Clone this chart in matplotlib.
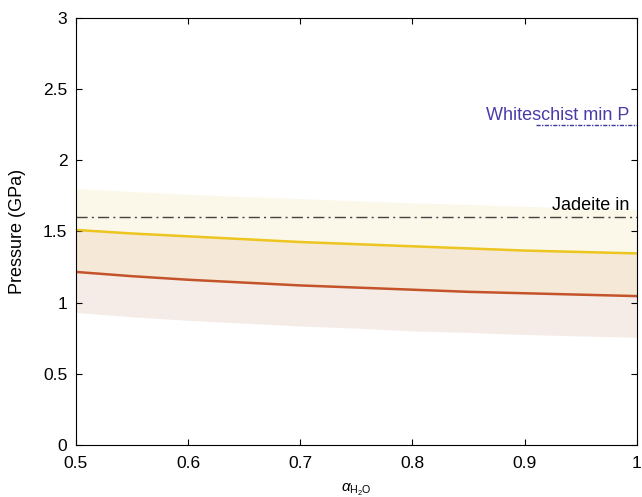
import numpy as np
import matplotlib.pyplot as plt

plt.rcParams['font.family'] = ['Liberation Sans', 'DejaVu Sans']
plt.rcParams['mathtext.fontset'] = 'custom'
plt.rcParams['mathtext.rm'] = 'Liberation Sans'
plt.rcParams['mathtext.it'] = 'Liberation Sans:italic'

# alpha_H2O values
alpha = [0.5, 0.55, 0.6, 0.65, 0.7, 0.75, 0.8, 0.85, 0.9, 0.95, 1.0]
# upper curve (yellow) and its envelope
p_yellow = [1.51, 1.485, 1.465, 1.445, 1.425, 1.41, 1.395, 1.38, 1.365, 1.355, 1.345]
p_yellow_hi = [1.80, 1.78, 1.76, 1.745, 1.73, 1.715, 1.70, 1.69, 1.675, 1.665, 1.655]
# lower curve (red) and its envelope
p_red = [1.215, 1.185, 1.16, 1.14, 1.12, 1.105, 1.09, 1.075, 1.065, 1.055, 1.045]
p_red_lo = [0.93, 0.90, 0.875, 0.855, 0.835, 0.82, 0.80, 0.79, 0.775, 0.765, 0.755]

jadeite_p = 1.6
whiteschist_p = 2.25
whiteschist_x = [0.91, 1.0]

fig = plt.figure(figsize=(6.42, 4.97), dpi=100)
ax = fig.add_axes([0.118, 0.105, 0.874, 0.859])

ax.fill_between(alpha, p_yellow, p_yellow_hi, color='#fbf7e9', lw=0)
ax.fill_between(alpha, p_red, p_yellow, color='#f5e8d7', lw=0)
ax.fill_between(alpha, p_red_lo, p_red, color='#f5ece7', lw=0)

ax.plot(alpha, p_yellow, color='#ecc51f', lw=1.8)
ax.plot(alpha, p_red, color='#c4532a', lw=1.8)

ax.axhline(jadeite_p, color='#444444', lw=1.0, ls=(0, (8, 3, 1.5, 3)))
ax.text(0.993, jadeite_p + 0.02, 'Jadeite in', ha='right', va='bottom', fontsize=13)

ax.plot(whiteschist_x, [whiteschist_p] * 2, color='#3b3ba0', lw=1.0, ls=(0, (3, 1, 1, 1)))
ax.text(0.993, whiteschist_p + 0.005, 'Whiteschist min P', ha='right', va='bottom',
        fontsize=13, color='#4a3ca8')

ax.set_xlim(0.5, 1)
ax.set_ylim(0, 3)
ax.set_xticks([0.5, 0.6, 0.7, 0.8, 0.9, 1])
ax.set_xticklabels(['0.5', '0.6', '0.7', '0.8', '0.9', '1'])
ax.set_yticks([0, 0.5, 1, 1.5, 2, 2.5, 3])
ax.set_yticklabels(['0', '0.5', '1', '1.5', '2', '2.5', '3'])
ax.tick_params(direction='in', length=4, labelsize=12.5, top=True, right=True)
ax.tick_params(axis='x', pad=8)
ax.tick_params(axis='y', pad=6)
ax.set_xlabel(r'$\alpha_{\mathrm{H_2O}}$', fontsize=11, labelpad=8)
ax.set_ylabel('Pressure (GPa)', fontsize=13, labelpad=12)

fig.savefig('out.png', dpi=100)
